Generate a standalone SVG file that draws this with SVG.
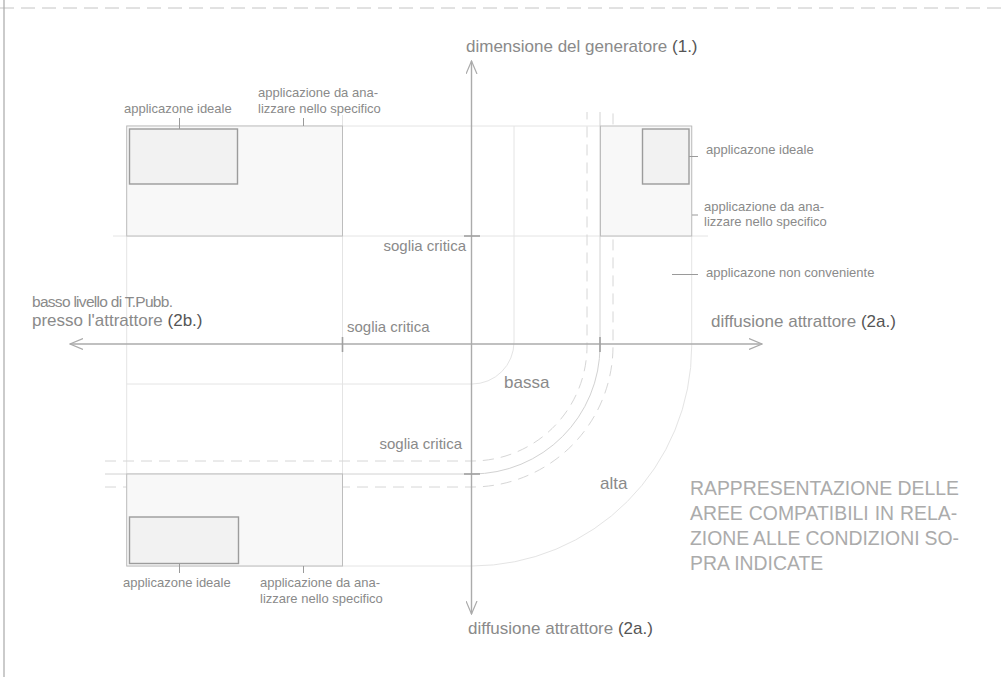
<svg xmlns="http://www.w3.org/2000/svg" width="1004" height="677" viewBox="0 0 1004 677">
  <style>
    text { font-family: "Liberation Sans", Arial, Helvetica, sans-serif; fill: #8a8a8a; }
    .lbl { font-size: 13px; }
    .thr { font-size: 15px; }
    .big { font-size: 17px; }
    .dark { fill: #555555; }
    .title { font-size: 19.4px; fill: #ababab; }
    .grid { fill: none; stroke: #e4e4e4; stroke-width: 1; }
    .guide { fill: none; stroke: #d2d2d2; stroke-width: 1; }
    .dash { fill: none; stroke: #d6d6d6; stroke-width: 1; stroke-dasharray: 11 7; }
    .axis { fill: none; stroke: #ababab; stroke-width: 1.4; }
    .tick { fill: none; stroke: #a0a0a0; stroke-width: 1.6; }
    .lead { fill: none; stroke: #9a9a9a; stroke-width: 1; }
    .outer { fill: #f8f8f8; stroke: #bdbdbd; stroke-width: 1; }
    .inner { fill: #f2f2f2; stroke: #9c9c9c; stroke-width: 1.4; }
  </style>
  <defs>
    <marker id="arr" viewBox="0 0 14 12" refX="13" refY="6" markerWidth="14" markerHeight="12" markerUnits="userSpaceOnUse" orient="auto">
      <path d="M0,0.5 L13,6 L0,11.5" fill="none" stroke="#ababab" stroke-width="1.2"/>
    </marker>
  </defs>

  <!-- sheet frame -->
  <g id="frame">
    <line x1="0" y1="8" x2="1004" y2="8" stroke="#c4c4c4" stroke-width="1" stroke-dasharray="14 7"/>
    <line x1="4" y1="0" x2="4" y2="677" stroke="#a8a8a8" stroke-width="1.2"/>
  </g>

  <g id="connectors">
    <!-- construction grid -->
    <line class="grid" x1="126.7" y1="126" x2="600" y2="126"/>
    <line class="grid" x1="113" y1="236" x2="708" y2="236"/>
    <line class="grid" x1="126.7" y1="126" x2="126.7" y2="566"/>
    <line class="grid" x1="342.5" y1="115" x2="342.5" y2="566"/>
    <!-- "bassa" boundary -->
    <path class="grid" d="M126.7,384 H472 A42,42 0 0 0 514,342 V126"/>
    <!-- "alta" boundary -->
    <path class="grid" d="M126.7,566 H472 A220,220 0 0 0 691.7,346 V126"/>
    <!-- critical threshold band -->
    <path class="dash" d="M105,461 H472 A115,115 0 0 0 587,346 V112"/>
    <path class="guide" d="M105,474 H472 A128,128 0 0 0 600,346 V112"/>
    <path class="dash" d="M105,487 H472 A141,141 0 0 0 613,346 V112"/>
  </g>

  <!-- upper left area -->
  <g id="area-top-left">
    <rect class="outer" x="126.7" y="126" width="215.8" height="110"/>
    <rect class="inner" x="129.5" y="129" width="108" height="55"/>
    <line class="lead" x1="179.5" y1="118" x2="179.5" y2="129"/>
    <line class="lead" x1="303.5" y1="118" x2="303.5" y2="126"/>
    <text class="lbl" x="124" y="113">applicazone ideale</text>
    <text class="lbl" x="258" y="97">applicazione da ana-</text>
    <text class="lbl" x="258" y="113">lizzare nello specifico</text>
  </g>

  <!-- upper right area -->
  <g id="area-top-right">
    <rect class="outer" x="600.5" y="126" width="91.2" height="110"/>
    <rect class="inner" x="642.5" y="129" width="46.5" height="55"/>
    <line class="lead" x1="689" y1="156.5" x2="698" y2="156.5"/>
    <line class="lead" x1="692" y1="215" x2="698" y2="215"/>
    <line class="lead" x1="672" y1="274.5" x2="698" y2="274.5"/>
    <text class="lbl" x="706" y="154">applicazone ideale</text>
    <text class="lbl" x="704" y="211">applicazione da ana-</text>
    <text class="lbl" x="704" y="226">lizzare nello specifico</text>
    <text class="lbl" x="706" y="277">applicazone non conveniente</text>
  </g>

  <!-- lower left area -->
  <g id="area-bottom-left">
    <rect class="outer" x="126.7" y="474" width="215.8" height="92"/>
    <rect class="inner" x="129.5" y="517" width="109" height="46.5"/>
    <line class="lead" x1="179.5" y1="563.5" x2="179.5" y2="573"/>
    <line class="lead" x1="303.5" y1="566" x2="303.5" y2="573"/>
    <text class="lbl" x="123" y="587">applicazone ideale</text>
    <text class="lbl" x="260" y="587">applicazione da ana-</text>
    <text class="lbl" x="260" y="603">lizzare nello specifico</text>
  </g>

  <!-- axes -->
  <g id="axes">
    <line class="axis" x1="471.5" y1="344" x2="471.5" y2="61" marker-end="url(#arr)"/>
    <line class="axis" x1="471.5" y1="344" x2="471.5" y2="614" marker-end="url(#arr)"/>
    <line class="axis" x1="471.5" y1="344" x2="70" y2="344" marker-end="url(#arr)"/>
    <line class="axis" x1="471.5" y1="344" x2="762" y2="344" marker-end="url(#arr)"/>
    <line class="tick" x1="464" y1="236" x2="480" y2="236"/>
    <line class="tick" x1="464" y1="474" x2="480" y2="474"/>
    <line class="tick" x1="342.5" y1="337" x2="342.5" y2="352"/>
    <line class="tick" x1="600" y1="337" x2="600" y2="352"/>
  </g>

  <g id="axis-labels">
    <text class="big" x="466" y="52">dimensione del generatore <tspan class="dark">(1.)</tspan></text>
    <text class="big" x="468" y="634">diffusione attrattore <tspan class="dark">(2a.)</tspan></text>
    <text class="big" x="711" y="327">diffusione attrattore <tspan class="dark">(2a.)</tspan></text>
    <text class="big" x="32" y="307" style="font-size:15.5px" textLength="141" lengthAdjust="spacing">basso livello di T.Pubb.</text>
    <text class="big" x="32" y="326">presso l'attrattore <tspan class="dark">(2b.)</tspan></text>
  </g>

  <g id="threshold-labels">
    <text class="thr" x="466" y="251" text-anchor="end">soglia critica</text>
    <text class="thr" x="347" y="332">soglia critica</text>
    <text class="thr" x="462" y="449" text-anchor="end">soglia critica</text>
    <text class="big" x="504" y="388">bassa</text>
    <text class="big" x="600" y="489">alta</text>
  </g>

  <g id="caption">
    <text class="title" x="690" y="495">RAPPRESENTAZIONE DELLE</text>
    <text class="title" x="690" y="520" word-spacing="0.6">AREE COMPATIBILI IN RELA-</text>
    <text class="title" x="690" y="545" word-spacing="-0.5">ZIONE ALLE CONDIZIONI SO-</text>
    <text class="title" x="690" y="570">PRA INDICATE</text>
  </g>
</svg>
